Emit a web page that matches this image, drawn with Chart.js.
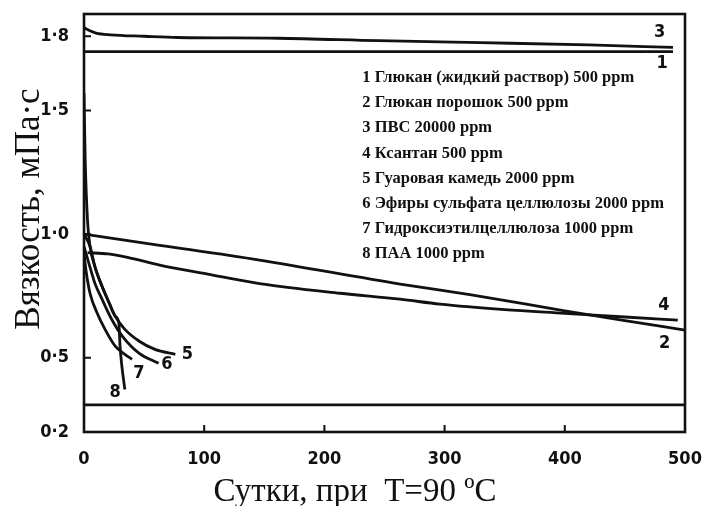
<!DOCTYPE html>
<html>
<head>
<meta charset="utf-8">
<script src="https://cdn.jsdelivr.net/npm/chart.js@4/dist/chart.umd.min.js"></script>
<style>
  html, body { margin: 0; padding: 0; background: #fff; }
  canvas { display: block; }
</style>
</head>
<body>
<canvas id="chart" width="704" height="506"></canvas>
<script>
// sutki (days) / viscosity
const days1 = [0, 490];
const visc1 = [1.738, 1.738];
const days2 = [0, 63, 146, 263, 321, 400, 450, 500];
const visc2 = [1.0, 0.955, 0.895, 0.798, 0.755, 0.69, 0.65, 0.612];
const days3 = [0, 5, 10, 22, 50, 78, 161, 245, 330, 420, 490];
const visc3 = [1.835, 1.822, 1.813, 1.806, 1.8, 1.795, 1.792, 1.782, 1.774, 1.765, 1.755];
const days4 = [3, 20, 37, 63, 103, 146, 213, 263, 296, 350, 400, 450, 494];
const visc4 = [0.925, 0.92, 0.905, 0.875, 0.838, 0.8, 0.761, 0.737, 0.717, 0.695, 0.68, 0.665, 0.652];
const days5 = [0, 5, 9, 15, 21, 26, 34, 46, 59, 76];
const visc5 = [1.0, 0.951, 0.87, 0.789, 0.721, 0.668, 0.615, 0.567, 0.534, 0.514];
const days6 = [0, 4, 9, 15, 23, 32, 46, 62];
const visc6 = [0.95, 0.883, 0.802, 0.737, 0.656, 0.587, 0.518, 0.478];
const days7 = [0, 2, 5, 11, 17.5, 26, 34, 40];
const visc7 = [0.92, 0.842, 0.761, 0.68, 0.615, 0.547, 0.514, 0.494];
const days8 = [0, 1, 3, 5, 9, 15, 21, 26, 29, 30, 31.5, 34];
const visc8 = [1.57, 1.3, 1.05, 0.951, 0.87, 0.789, 0.721, 0.668, 0.64, 0.547, 0.466, 0.372];
const daysBase = [0, 500];
const viscBase = [0.31, 0.31];

const yTicks = [0.2, 0.5, 1.0, 1.5, 1.8];
const xTicks = [0, 100, 200, 300, 400, 500];

const legendLines = [
  '1 Глюкан (жидкий раствор) 500 ppm',
  '2 Глюкан порошок 500 ppm',
  '3 ПВС 20000 ppm',
  '4 Ксантан 500 ppm',
  '5 Гуаровая камедь 2000 ppm',
  '6 Эфиры сульфата целлюлозы 2000 ppm',
  '7 Гидроксиэтилцеллюлоза 1000 ppm',
  '8 ПАА 1000 ppm'
];
const curveTags = ['1', '2', '3', '4', '5', '6', '7', '8'];
const tagDays = [481, 483, 479, 482.5, 86, 69, 45.7, 25.8];
const tagVisc = [1.692, 0.559, 1.814, 0.713, 0.514, 0.474, 0.437, 0.36];

const xTitle = 'Сутки, при  T=90 ºC';
const yTitle = 'Вязкость, мПа·с';

const INK = '#111';
const numFont = '"Liberation Sans Narrow", "DejaVu Sans Condensed", sans-serif';

function pts(xs, ys) {
  return xs.map((x, i) => ({ x: x, y: ys[i] }));
}

function line(label, xs, ys) {
  return {
    label: label,
    data: pts(xs, ys),
    borderColor: INK,
    borderWidth: 2.8,
    pointRadius: 0,
    fill: false,
    cubicInterpolationMode: 'monotone'
  };
}

const decor = {
  id: 'decor',
  afterDraw(chart) {
    const ctx = chart.ctx;
    const a = chart.chartArea;
    const xs = chart.scales.x;
    const ys = chart.scales.y;
    ctx.save();

    // frame
    ctx.strokeStyle = INK;
    ctx.lineWidth = 2.6;
    ctx.strokeRect(a.left, a.top, a.right - a.left, a.bottom - a.top);

    // inward ticks
    ctx.lineWidth = 2;
    ctx.beginPath();
    xTicks.slice(1, -1).forEach(v => {
      const px = xs.getPixelForValue(v);
      ctx.moveTo(px, a.bottom);
      ctx.lineTo(px, a.bottom - 7);
    });
    yTicks.slice(1).forEach(v => {
      const py = ys.getPixelForValue(v);
      ctx.moveTo(a.left, py);
      ctx.lineTo(a.left + 7, py);
    });
    ctx.stroke();

    // curve numbers
    ctx.fillStyle = INK;
    ctx.font = 'bold 18px ' + numFont;
    ctx.textAlign = 'center';
    ctx.textBaseline = 'middle';
    curveTags.forEach((t, i) => {
      ctx.fillText(t, xs.getPixelForValue(tagDays[i]), ys.getPixelForValue(tagVisc[i]));
    });

    // legend text
    ctx.textAlign = 'left';
    let size = 15;
    ctx.font = 'bold ' + size + 'px "Liberation Serif", serif';
    const w = ctx.measureText(legendLines[0]).width;
    size = size * 272 / w;
    ctx.font = 'bold ' + size.toFixed(2) + 'px "Liberation Serif", serif';
    const lx = xs.getPixelForValue(231.5);
    const ly = ys.getPixelForValue(1.632);
    legendLines.forEach((t, i) => ctx.fillText(t, lx, ly + i * 25.2));

    // axis titles
    ctx.font = '33px "Liberation Serif", "Times New Roman", serif';
    ctx.textAlign = 'center';
    ctx.textBaseline = 'alphabetic';
    ctx.fillText(xTitle, 355, 501);
    ctx.save();
    ctx.translate(39, 209);
    ctx.rotate(-Math.PI / 2);
    ctx.font = '35px "Liberation Serif", "Times New Roman", serif';
    ctx.fillText(yTitle, 0, 0);
    ctx.restore();

    ctx.restore();
  }
};

new Chart(document.getElementById('chart').getContext('2d'), {
  type: 'line',
  data: {
    datasets: [
      line(legendLines[0], days1, visc1),
      line(legendLines[1], days2, visc2),
      line(legendLines[2], days3, visc3),
      line(legendLines[3], days4, visc4),
      line(legendLines[4], days5, visc5),
      line(legendLines[5], days6, visc6),
      line(legendLines[6], days7, visc7),
      line(legendLines[7], days8, visc8),
      line('', daysBase, viscBase)
    ]
  },
  options: {
    responsive: false,
    animation: false,
    layout: { padding: { left: 0, top: 14, right: 19, bottom: 0 } },
    plugins: {
      legend: { display: false },
      tooltip: { enabled: false }
    },
    scales: {
      x: {
        type: 'linear',
        min: 0,
        max: 500,
        grid: { display: false },
        border: { display: false },
        afterBuildTicks: s => { s.ticks = xTicks.map(v => ({ value: v })); },
        afterFit: s => { s.height = 74; s.paddingLeft = 0; s.paddingRight = 0; },
        ticks: {
          color: INK,
          padding: 9,
          maxRotation: 0,
          font: { family: numFont, size: 18, weight: 'bold' }
        }
      },
      y: {
        type: 'linear',
        min: 0.2,
        max: 1.89,
        grid: { display: false },
        border: { display: false },
        afterBuildTicks: s => { s.ticks = yTicks.map(v => ({ value: v })); },
        afterFit: s => { s.width = 84; s.paddingTop = 0; s.paddingBottom = 0; },
        ticks: {
          color: INK,
          padding: 7,
          font: { family: numFont, size: 18, weight: 'bold' },
          callback: v => v.toFixed(1).replace('.', '·')
        }
      }
    }
  },
  plugins: [decor]
});
</script>
</body>
</html>
